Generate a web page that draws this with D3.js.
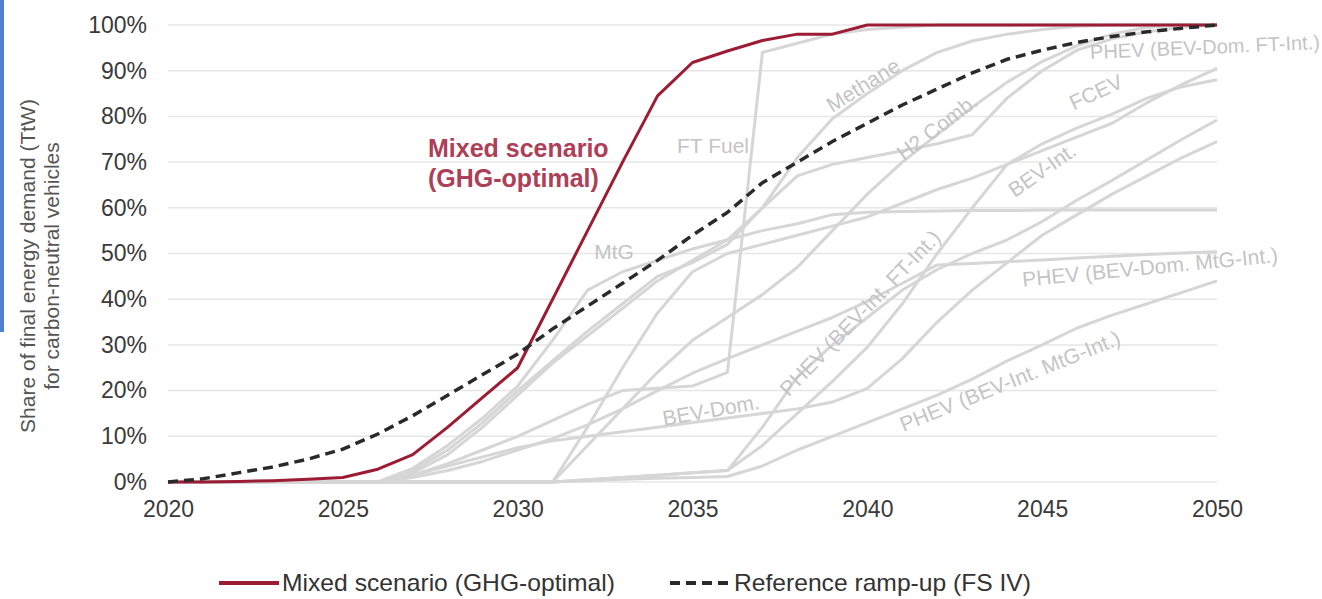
<!DOCTYPE html>
<html>
<head>
    <meta charset="utf-8" />
    <title>Carbon-neutral vehicles ramp-up</title>
    <script src="https://cdn.jsdelivr.net/npm/d3@7/dist/d3.min.js"></script>
    <style>
        body { margin: 0; background: #fff; font-family: "Liberation Sans", Arial, sans-serif; }
        #chart svg { display: block; }
    </style>
</head>
<body>
    <div id="chart"></div>
    <script>
        // years on the x axis
        var years = d3.range(2020, 2051);

        // highlighted series (share in %)
        var mixedScenario = [0, 0, 0.1, 0.3, 0.6, 1, 2.8, 6, 12, 18.5, 25, 40, 55, 70, 84.5, 91.8, 94.3, 96.6, 98, 98,
            100, 100, 100, 100, 100, 100, 100, 100, 100, 100, 100];
        var referenceRampUp = [0, 0.7, 2, 3.3, 5, 7.2, 10.5, 14.5, 19, 23.5, 28, 33.5, 38.5, 43.5, 48.5, 54, 59, 65.5, 70, 74.5,
            78.5, 82.5, 86, 89.5, 92.5, 94.5, 96.2, 97.5, 98.5, 99.3, 100];

        // grey background pathways
        var methane = [0, 0, 0, 0, 0, 0, 0, 2, 6, 12, 19, 26, 32, 38, 44, 48.5, 53, 60, 71, 79.5,
            85, 90, 94, 96.5, 98, 99, 99.7, 100, 100, 100, 100];
        var h2Comb = [0, 0, 0, 0, 0, 0, 0, 2.5, 7, 13, 20, 26.5, 33, 39, 45, 48, 52, 60, 67, 69.5,
            71, 72.5, 74, 76, 84, 90, 94.5, 97, 98.5, 99.5, 100];
        var ftFuel = [0, 0, 0, 0, 0, 0, 0, 1.5, 4, 7, 10, 13.5, 17, 20, 20.5, 21, 24, 94, 96, 98,
            99, 99.5, 100, 100, 100, 100, 100, 100, 100, 100, 100];
        var mtg = [0, 0, 0, 0, 0, 0, 0, 3, 8, 14, 21, 31, 42, 46, 48.5, 51, 53, 55, 56.5, 58.5,
            59, 59.2, 59.3, 59.4, 59.4, 59.5, 59.5, 59.5, 59.5, 59.5, 59.5];
        var fcev = [0, 0, 0, 0, 0, 0, 0, 0, 0, 0, 0, 0, 12, 25, 37, 46, 50, 52, 54, 56,
            58, 61, 64, 66.5, 69.5, 72.5, 75.5, 78.5, 83, 87, 90.5];
        var phevBevDomFtInt = [0, 0, 0, 0, 0, 0, 0, 0, 0, 0, 0, 0, 8, 16, 24, 31, 36, 41, 47, 55,
            63, 70, 76, 82, 87.5, 92, 95.5, 98, 99.5, 100, 100];
        var phevBevDomMtgInt = [0, 0, 0, 0, 0, 0, 0, 1, 2.5, 4.5, 7, 9.5, 12.5, 16, 20, 23.8, 27, 30, 33, 36,
            39.5, 43.5, 47.5, 47.8, 48.2, 48.6, 49, 49.4, 49.8, 50.1, 50.4];
        var bevDom = [0, 0, 0, 0, 0, 0, 0, 1.5, 3.5, 5.5, 7.5, 9, 10, 11, 12, 13, 14, 15, 16, 17.5,
            20.5, 27, 35, 42, 48, 54, 58.5, 63, 67, 71, 74.5];
        var phevBevIntFtInt = [0, 0, 0, 0, 0, 0, 0, 0, 0, 0, 0, 0, 0.5, 1, 1.5, 2, 2.5, 12, 23, 30,
            36, 42, 46.5, 50, 53, 57, 61.7, 66, 70.5, 75, 79.2];
        var bevInt = [0, 0, 0, 0, 0, 0, 0, 0, 0, 0, 0, 0, 0.5, 1, 1.5, 2, 2.5, 8, 15, 22,
            29.5, 39, 50, 60, 69.5, 74, 77.5, 80.5, 84, 86.5, 88];
        var phevBevIntMtgInt = [0, 0, 0, 0, 0, 0, 0, 0, 0, 0, 0, 0, 0.3, 0.6, 0.8, 1, 1.2, 3.5, 7, 10,
            13, 16, 19, 22.5, 26.5, 30, 33.7, 36.5, 39, 41.5, 44];

        var greySeries = [methane, h2Comb, ftFuel, mtg, fcev, phevBevDomFtInt, phevBevDomMtgInt,
            bevDom, phevBevIntFtInt, bevInt, phevBevIntMtgInt];

        // tick labels
        var yTicks = [0, 10, 20, 30, 40, 50, 60, 70, 80, 90, 100];
        var xTicks = [2020, 2025, 2030, 2035, 2040, 2045, 2050];

        var width = 1322;
        var height = 599;

        var svg = d3.select("#chart")
            .append("svg")
            .attr("width", width)
            .attr("height", height);

        // screenshot edge artefact on the left
        svg.append("rect")
            .attr("x", 0).attr("y", 0)
            .attr("width", 4).attr("height", 332)
            .attr("fill", "#4f7fd6");

        var x = d3.scaleLinear().domain([2020, 2050]).range([168, 1217]);
        var y = d3.scaleLinear().domain([0, 100]).range([482, 25]);

        // grid
        svg.append("g")
            .selectAll("line")
            .data(yTicks)
            .enter()
            .append("line")
            .attr("x1", x(2020))
            .attr("x2", x(2050))
            .attr("y1", function (d) { return y(d); })
            .attr("y2", function (d) { return y(d); })
            .attr("stroke", "#e6e6e6")
            .attr("stroke-width", 1.5);

        var yAxis = svg.append("g")
            .attr("transform", "translate(" + x(2020) + ",0)")
            .call(d3.axisLeft(y).tickValues(yTicks).tickSize(0).tickPadding(21)
                .tickFormat(function (d) { return d + "%"; }));

        var xAxis = svg.append("g")
            .attr("transform", "translate(0," + y(0) + ")")
            .call(d3.axisBottom(x).tickValues(xTicks).tickSize(0).tickPadding(19)
                .tickFormat(d3.format("d")));

        [yAxis, xAxis].forEach(function (ax) {
            ax.select(".domain").remove();
            ax.selectAll("text")
                .attr("fill", "#3a3a3a")
                .style("font-family", "'Liberation Sans', Arial, sans-serif")
                .style("font-size", "23px");
        });

        // y axis title (two lines)
        var yTitle = svg.append("text")
            .attr("transform", "translate(40,266) rotate(-90)")
            .attr("text-anchor", "middle")
            .attr("fill", "#555")
            .style("font-size", "21px");
        yTitle.append("tspan").attr("x", 0).attr("dy", "-0.25em").text("Share of final energy demand (TtW)");
        yTitle.append("tspan").attr("x", 0).attr("dy", "1.15em").text("for carbon-neutral vehicles");

        var line = d3.line()
            .x(function (d, i) { return x(years[i]); })
            .y(function (d) { return y(d); });

        svg.append("g")
            .selectAll("path")
            .data(greySeries)
            .enter()
            .append("path")
            .attr("d", line)
            .attr("fill", "none")
            .attr("stroke", "#d6d6d6")
            .attr("stroke-width", 3)
            .attr("stroke-linejoin", "round");

        // grey labels
        var greyLabels = [
            { text: "FT Fuel", cx: 713, cy: 146, rot: 0 },
            { text: "MtG", cx: 614, cy: 252, rot: 0 },
            { text: "Methane", cx: 863, cy: 85, rot: -32 },
            { text: "H2 Comb.", cx: 937, cy: 127, rot: -37 },
            { text: "FCEV", cx: 1096, cy: 92, rot: -25 },
            { text: "BEV-Int.", cx: 1042, cy: 170, rot: -35 },
            { text: "BEV-Dom.", cx: 711, cy: 410, rot: -10 },
            { text: "PHEV (BEV-Int. FT-Int.)", cx: 860, cy: 313, rot: -46 },
            { text: "PHEV (BEV-Int. MtG-Int.)", cx: 1010, cy: 381, rot: -22 },
            { text: "PHEV (BEV-Dom. MtG-Int.)", cx: 1150, cy: 267, rot: -5.5 }
        ];

        svg.append("g")
            .selectAll("text")
            .data(greyLabels)
            .enter()
            .append("text")
            .attr("transform", function (d) { return "translate(" + d.cx + "," + d.cy + ") rotate(" + d.rot + ")"; })
            .attr("text-anchor", "middle")
            .attr("dy", "0.35em")
            .attr("fill", "#c4c4c4")
            .style("font-size", "21px")
            .text(function (d) { return d.text; });

        svg.append("text")
            .attr("transform", "translate(1090,52) rotate(-2.5)")
            .attr("dy", "0.35em")
            .attr("fill", "#c4c4c4")
            .style("font-size", "20px")
            .text("PHEV (BEV-Dom. FT-Int.)");

        // highlighted lines
        svg.append("path")
            .datum(mixedScenario)
            .attr("d", line)
            .attr("fill", "none")
            .attr("stroke", "#9c1c34")
            .attr("stroke-width", 3)
            .attr("stroke-linejoin", "round");

        svg.append("path")
            .datum(referenceRampUp)
            .attr("d", line)
            .attr("fill", "none")
            .attr("stroke", "#2a2a2a")
            .attr("stroke-width", 3.5)
            .attr("stroke-dasharray", "10,6");

        var redLabel = svg.append("text")
            .attr("fill", "#ad3f58")
            .style("font-size", "25px")
            .style("font-weight", "bold");
        redLabel.append("tspan").attr("x", 428).attr("y", 157).text("Mixed scenario");
        redLabel.append("tspan").attr("x", 428).attr("y", 187).text("(GHG-optimal)");

        // legend
        var legend = svg.append("g");
        legend.append("line")
            .attr("x1", 219).attr("x2", 279).attr("y1", 583).attr("y2", 583)
            .attr("stroke", "#9c1c34").attr("stroke-width", 4);
        legend.append("text")
            .attr("x", 282).attr("y", 583).attr("dy", "0.35em")
            .attr("fill", "#333")
            .attr("textLength", 333).attr("lengthAdjust", "spacingAndGlyphs")
            .style("font-size", "24px")
            .text("Mixed scenario (GHG-optimal)");
        legend.append("line")
            .attr("x1", 670).attr("x2", 729).attr("y1", 583).attr("y2", 583)
            .attr("stroke", "#2a2a2a").attr("stroke-width", 4)
            .attr("stroke-dasharray", "10,6");
        legend.append("text")
            .attr("x", 734).attr("y", 583).attr("dy", "0.35em")
            .attr("fill", "#333")
            .attr("textLength", 297).attr("lengthAdjust", "spacingAndGlyphs")
            .style("font-size", "24px")
            .text("Reference ramp-up (FS IV)");
    </script>
</body>
</html>
